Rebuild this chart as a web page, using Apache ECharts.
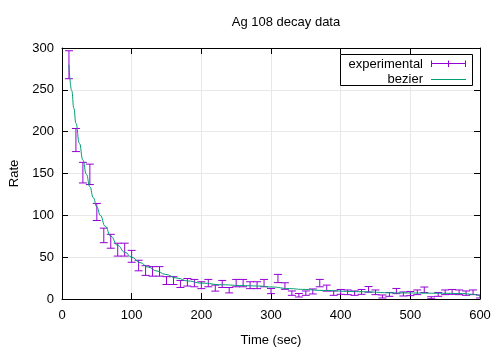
<!DOCTYPE html>
<html>
<head>
<meta charset="utf-8">
<script src="https://cdn.jsdelivr.net/npm/echarts@6/dist/echarts.min.js"></script>
<style>
  html, body { margin: 0; padding: 0; background: #fff; }
  #main { width: 500px; height: 350px; }
</style>
</head>
<body>
<div id="main"></div>
<script>
var timeSec = [10, 20, 30, 40, 50, 60, 70, 80, 90, 100,
  110, 120, 130, 140, 150, 160, 170, 180, 190, 200,
  210, 220, 230, 240, 250, 260, 270, 280, 290, 300,
  310, 320, 330, 340, 350, 360, 370, 380, 390, 400,
  410, 420, 430, 440, 450, 460, 470, 480, 490, 500,
  510, 520, 530, 540, 550, 560, 570, 580, 590, 600];
var rate = [280, 190, 151, 149, 104, 76, 69, 59, 59, 51,
  40, 34, 33, 33, 22, 22, 18, 20, 19, 16.5,
  19, 13, 18, 10.5, 19, 19, 16.5, 16.5, 19, 9.5,
  24.5, 15.5, 7, 4.5, 7, 9, 19, 13, 7, 8.5,
  8, 7, 8.5, 11.5, 8, 3, 5.5, 9.5, 6, 6.5,
  8, 11, 1.5, 5.5, 8, 8.5, 8, 7, 8, 3];
var rateErr = [16.7, 13.8, 12.3, 12.2, 10.2, 8.7, 8.3, 7.7, 7.7, 7.1,
  6.3, 5.8, 5.7, 5.7, 4.7, 4.7, 4.2, 4.5, 4.4, 4.1,
  4.4, 3.6, 4.2, 3.2, 4.4, 4.4, 4.1, 4.1, 4.4, 3.1,
  4.9, 3.9, 2.6, 2.1, 2.6, 3.0, 4.4, 3.6, 2.6, 2.9,
  2.8, 2.6, 2.9, 3.4, 2.8, 1.8, 2.3, 3.1, 2.4, 2.5,
  2.8, 3.3, 1.2, 2.3, 2.8, 2.9, 2.8, 2.6, 2.8, 1.8];

// bezier curve
var bezierTime = [10, 14, 17, 20, 25, 30, 35, 40, 45, 50, 55, 62, 70, 80, 90, 100,
  112, 124, 136, 148, 165, 181, 200, 230, 260, 282, 300, 327, 345, 375, 423, 480,
  540, 575, 590, 600];
var bezierRate = [280, 249, 228, 210, 186, 166, 149, 134, 121, 110, 100, 87, 75, 64, 56, 50,
  43.5, 38, 33.5, 29.5, 25, 21.5, 19, 17, 16, 15.5, 14.4, 12.4, 11.5, 10.2, 8.8, 7.3,
  6.9, 6.5, 5.6, 3.6];

var xTicks = [0, 100, 200, 300, 400, 500, 600];
var yTicks = [0, 50, 100, 150, 200, 250, 300];

var FONT = 'Liberation Sans';
var PURPLE = '#9400d3', GREEN = '#009e73';

var chart = echarts.init(document.getElementById('main'));

var barData = timeSec.map(function (t, i) { return [t, rate[i], rateErr[i]]; });
var curveData = bezierTime.map(function (t, i) { return [t, bezierRate[i]]; });

var tickStyle = { show: true, inside: true, length: 6, lineStyle: { color: '#000', width: 1 } };
var lineStyle = { show: true, onZero: false, lineStyle: { color: '#000', width: 1 } };
var labelStyle = { fontFamily: FONT, fontSize: 13, color: '#000' };
var gridLine = { show: true, lineStyle: { color: '#e8e8e8', width: 1 } };

var option = {
  animation: false,
  backgroundColor: '#fff',
  grid: { left: 62, right: 20, top: 48, bottom: 51, containLabel: false, outerBoundsMode: 'none' },
  xAxis: [{
    type: 'value', min: xTicks[0], max: xTicks[xTicks.length - 1], interval: 100,
    name: 'Time (sec)', nameLocation: 'middle', nameGap: 35,
    nameTextStyle: labelStyle,
    axisLine: lineStyle, axisTick: tickStyle, splitLine: gridLine,
    axisLabel: Object.assign({ margin: 10 }, labelStyle)
  }, {
    type: 'value', position: 'top', min: 0, max: 600, interval: 100,
    axisLine: lineStyle, axisTick: tickStyle, splitLine: { show: false },
    axisLabel: { show: false }
  }],
  yAxis: [{
    type: 'value', min: yTicks[0], max: yTicks[yTicks.length - 1], interval: 50,
    name: 'Rate', nameLocation: 'middle', nameGap: 40, nameRotate: 90,
    nameTextStyle: labelStyle,
    axisLine: lineStyle, axisTick: tickStyle, splitLine: gridLine,
    axisLabel: Object.assign({ margin: 8 }, labelStyle)
  }, {
    type: 'value', position: 'right', min: 0, max: 300, interval: 50,
    axisLine: lineStyle, axisTick: tickStyle, splitLine: { show: false },
    axisLabel: { show: false }
  }],
  series: [{
    name: 'experimental',
    type: 'custom',
    clip: true,
    data: barData,
    encode: { x: 0, y: 1 },
    z: 3,
    renderItem: function (params, api) {
      var x = api.value(0), v = api.value(1), e = api.value(2);
      var hi = api.coord([x, v + e]), lo = api.coord([x, v - e]);
      var w = 4, st = { stroke: PURPLE, lineWidth: 1 };
      return {
        type: 'group',
        children: [
          { type: 'line', shape: { x1: hi[0], y1: hi[1], x2: lo[0], y2: lo[1] }, style: st },
          { type: 'line', shape: { x1: hi[0] - w, y1: hi[1], x2: hi[0] + w, y2: hi[1] }, style: st },
          { type: 'line', shape: { x1: lo[0] - w, y1: lo[1], x2: lo[0] + w, y2: lo[1] }, style: st }
        ]
      };
    }
  }, {
    name: 'bezier',
    type: 'line',
    data: curveData,
    smooth: true,
    smoothMonotone: 'x',
    showSymbol: false,
    z: 4,
    lineStyle: { color: GREEN, width: 1 }
  }],
  graphic: [
    { type: 'text', style: { text: 'Ag 108 decay data', x: 286, y: 22, align: 'center', verticalAlign: 'middle', font: '13px ' + FONT, fill: '#000' } },
    { type: 'rect', z: 10, shape: { x: 340.5, y: 54.5, width: 132, height: 31 }, style: { fill: '#fff', stroke: '#000', lineWidth: 1 } },
    { type: 'text', z: 11, style: { text: 'experimental', x: 423, y: 64, align: 'right', verticalAlign: 'middle', font: '13px ' + FONT, fill: '#000' } },
    { type: 'text', z: 11, style: { text: 'bezier', x: 423, y: 79.5, align: 'right', verticalAlign: 'middle', font: '13px ' + FONT, fill: '#000' } },
    { type: 'line', z: 11, shape: { x1: 431, y1: 63.5, x2: 466, y2: 63.5 }, style: { stroke: PURPLE, lineWidth: 1 } },
    { type: 'line', z: 11, shape: { x1: 431.5, y1: 60.5, x2: 431.5, y2: 67 }, style: { stroke: PURPLE, lineWidth: 1 } },
    { type: 'line', z: 11, shape: { x1: 448.5, y1: 60.5, x2: 448.5, y2: 67 }, style: { stroke: PURPLE, lineWidth: 1 } },
    { type: 'line', z: 11, shape: { x1: 465.5, y1: 60.5, x2: 465.5, y2: 67 }, style: { stroke: PURPLE, lineWidth: 1 } },
    { type: 'line', z: 11, shape: { x1: 431, y1: 79.5, x2: 466, y2: 79.5 }, style: { stroke: GREEN, lineWidth: 1 } }
  ]
};

chart.setOption(option);
</script>
</body>
</html>
